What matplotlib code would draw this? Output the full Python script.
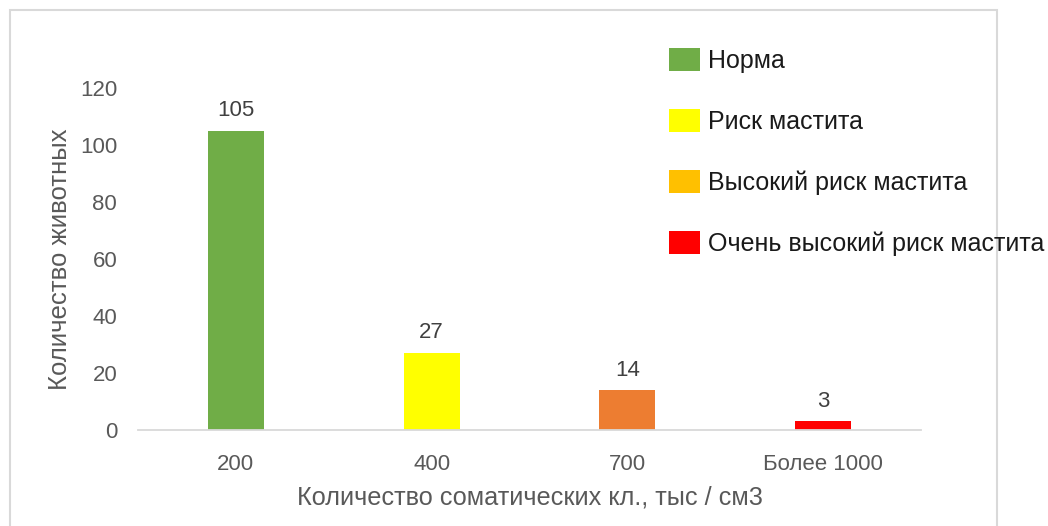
import matplotlib.pyplot as plt
from matplotlib.patches import Patch, Rectangle

categories = ['200', '400', '700', 'Более 1000']
counts = [105, 27, 14, 3]
bar_colors = ['#70AD47', '#FFFF00', '#ED7D31', '#FF0000']

legend_labels = ['Норма', 'Риск мастита', 'Высокий риск мастита', 'Очень высокий риск мастита']
legend_colors = ['#70AD47', '#FFFF00', '#FFC000', '#FF0000']

plt.rcParams['font.family'] = ['Liberation Sans', 'DejaVu Sans']

fig = plt.figure(figsize=(10.48, 5.26), dpi=100)
ax = fig.add_axes([138 / 1048, 1 - 430 / 526, 783 / 1048, 342 / 526])

x = range(len(categories))
bars = ax.bar(x, counts, width=0.286, color=bar_colors)
for b, v in zip(bars, counts):
    ax.annotate(str(v), (b.get_x() + b.get_width() / 2, v), xytext=(0, 10.5),
                textcoords='offset points', ha='center', va='baseline',
                fontsize=16, color='#404040')

ax.set_xlim(-0.5, 3.5)
ax.set_ylim(0, 120)
ax.set_yticks(range(0, 121, 20))
ax.set_xticks(list(x))
ax.set_xticklabels(categories)
ax.tick_params(axis='both', length=0, labelsize=16, labelcolor='#595959')
ax.tick_params(axis='x', pad=17)
ax.tick_params(axis='y', pad=15)
for s in ['top', 'right', 'left']:
    ax.spines[s].set_visible(False)
ax.spines['bottom'].set_color('#D9D9D9')
ax.spines['bottom'].set_linewidth(1.3)

ax.set_ylabel('Количество животных', fontsize=18.5, color='#595959', va='center')
ax.yaxis.set_label_coords(-0.1, 0.5)
ax.set_xlabel('Количество соматических кл., тыс / см3', fontsize=18.2, color='#595959', va='center')
ax.xaxis.set_label_coords(0.5, -0.196)

handles = [Patch(facecolor=c, edgecolor='none') for c in legend_colors]
fig.legend(handles, legend_labels, loc='upper left', bbox_to_anchor=(669 / 1048, 1 - 48 / 526),
           frameon=False, fontsize=18, handlelength=1.24, handleheight=1.04,
           handletextpad=0.32, labelspacing=1.44, borderpad=0, borderaxespad=0,
           labelcolor='#1a1a1a')

fig.patches.append(Rectangle((10 / 1048, -0.1), 987 / 1048, 1.1 - 10 / 526,
                             transform=fig.transFigure, fill=False,
                             edgecolor='#D9D9D9', linewidth=1.5))

fig.savefig('out.png', dpi=100)
